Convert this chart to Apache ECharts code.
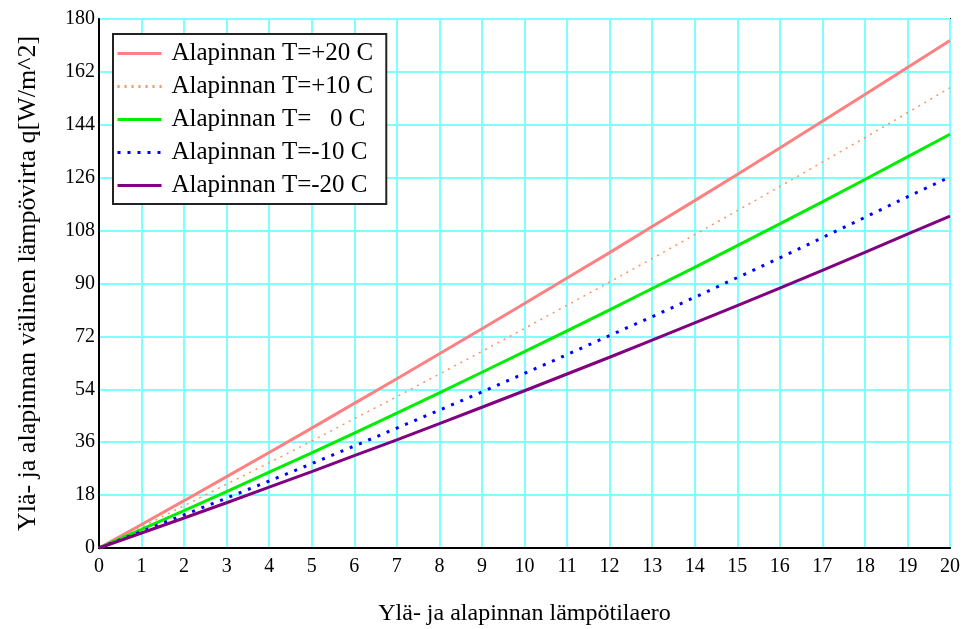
<!DOCTYPE html>
<html>
<head>
<meta charset="utf-8">
<script src="https://cdn.jsdelivr.net/npm/echarts@6/dist/echarts.min.js"></script>
<style>
html, body { margin: 0; padding: 0; background: #fff; }
#chart { width: 966px; height: 629px; }
</style>
</head>
<body>
<div id="chart"></div>
<script>
// temperature difference (x axis)
var dT = [0, 1, 2, 3, 4, 5, 6, 7, 8, 9, 10, 11, 12, 13, 14, 15, 16, 17, 18, 19, 20];
// heat flux per bottom surface temperature
var qPlus20 = [0, 8.0, 16.1, 24.3, 32.5, 40.8, 49.2, 57.6, 66.1, 74.6, 83.2, 91.9, 100.5, 109.4, 118.2, 127.1, 136.1, 145.2, 154.3, 163.5, 172.7];
var qPlus10 = [0, 7.1, 14.4, 21.7, 29.0, 36.4, 44.0, 51.5, 59.2, 66.9, 74.7, 82.6, 90.5, 98.5, 106.6, 114.8, 123.0, 131.3, 139.6, 148.1, 156.6];
var qZero = [0, 6.3, 12.7, 19.2, 25.8, 32.4, 39.1, 45.9, 52.8, 59.8, 66.8, 73.9, 81.0, 88.3, 95.5, 102.9, 110.3, 117.8, 125.4, 133.1, 140.8];
var qMinus10 = [0, 5.6, 11.3, 17.0, 22.8, 28.7, 34.7, 40.8, 46.9, 53.1, 59.4, 65.8, 72.3, 78.7, 85.3, 92.0, 98.7, 105.6, 112.5, 119.5, 126.3];
var qMinus20 = [0, 5.1, 10.2, 15.4, 20.7, 26.0, 31.4, 36.8, 42.3, 47.9, 53.5, 59.2, 64.9, 70.7, 76.6, 82.5, 88.4, 94.5, 100.6, 106.8, 112.9];
var seriesNames = ['Alapinnan T=+20 C', 'Alapinnan T=+10 C', 'Alapinnan T=   0 C', 'Alapinnan T=-10 C', 'Alapinnan T=-20 C'];
var xTicks = { min: 0, max: 20, step: 1 };
var yTicks = { min: 0, max: 180, step: 18 };

function pairs(ys) {
	return dT.map(function(x, i) { return [x, ys[i]]; });
}

var font = '"Liberation Serif", "Times New Roman", serif';
var chart = echarts.init(document.getElementById('chart'));
var option = {
	backgroundColor: '#fff',
	animation: false,
	grid: {
		left: 99,
		right: 16,
		top: 19,
		bottom: 81,
		outerBoundsMode: 'none',
		show: true,
		borderColor: '#000',
		borderWidth: 2
	},
	legend: {
		orient: 'vertical',
		left: 113,
		top: 34,
		padding: [7, 13, 6, 3],
		itemGap: 8,
		itemWidth: 44,
		itemHeight: 14,
		backgroundColor: '#fff',
		borderColor: '#222',
		borderWidth: 2,
		borderRadius: 0,
		itemStyle: { opacity: 0 },
		lineStyle: { width: 3 },
		textStyle: {
			fontFamily: font,
			fontSize: 25,
			color: '#000',
			lineHeight: 25,
			padding: [0, 0, 0, 5]
		},
		data: seriesNames
	},
	xAxis: {
		type: 'value',
		min: xTicks.min,
		max: xTicks.max,
		interval: xTicks.step,
		name: 'Ylä- ja alapinnan lämpötilaero',
		nameLocation: 'middle',
		nameGap: 54,
		nameTextStyle: { fontFamily: font, fontSize: 24, color: '#000' },
		axisLine: { lineStyle: { color: '#000', width: 2 } },
		axisTick: { show: false },
		axisLabel: { fontFamily: font, fontSize: 20, color: '#000', margin: 9 },
		splitLine: { lineStyle: { color: '#80ffff', width: 2 } }
	},
	yAxis: {
		type: 'value',
		min: yTicks.min,
		max: yTicks.max,
		interval: yTicks.step,
		name: 'Ylä- ja alapinnan välinen lämpövirta q[W/m^2]',
		nameLocation: 'middle',
		nameGap: 58,
		nameTextStyle: { fontFamily: font, fontSize: 26, color: '#000' },
		axisLine: { show: true, lineStyle: { color: '#000', width: 2 } },
		axisTick: { show: false },
		axisLabel: { fontFamily: font, fontSize: 20, color: '#000', margin: 4 },
		splitLine: { lineStyle: { color: '#80ffff', width: 2 } }
	},
	series: [{
		name: seriesNames[0],
		type: 'line',
		showSymbol: false,
		symbol: 'none',
		lineStyle: { color: '#ff8080', width: 3 },
		itemStyle: { color: '#ff8080' },
		data: pairs(qPlus20)
	}, {
		name: seriesNames[1],
		type: 'line',
		showSymbol: false,
		symbol: 'none',
		lineStyle: { color: '#ff9060', width: 1.5, type: [2, 5] },
		itemStyle: { color: '#ff9060' },
		data: pairs(qPlus10)
	}, {
		name: seriesNames[2],
		type: 'line',
		showSymbol: false,
		symbol: 'none',
		lineStyle: { color: '#00ee00', width: 3 },
		itemStyle: { color: '#00ee00' },
		data: pairs(qZero)
	}, {
		name: seriesNames[3],
		type: 'line',
		showSymbol: false,
		symbol: 'none',
		lineStyle: { color: '#0000ff', width: 3, type: [3, 7] },
		itemStyle: { color: '#0000ff' },
		data: pairs(qMinus10)
	}, {
		name: seriesNames[4],
		type: 'line',
		showSymbol: false,
		symbol: 'none',
		lineStyle: { color: '#800080', width: 3 },
		itemStyle: { color: '#800080' },
		data: pairs(qMinus20)
	}]
};
chart.setOption(option);
</script>
</body>
</html>
